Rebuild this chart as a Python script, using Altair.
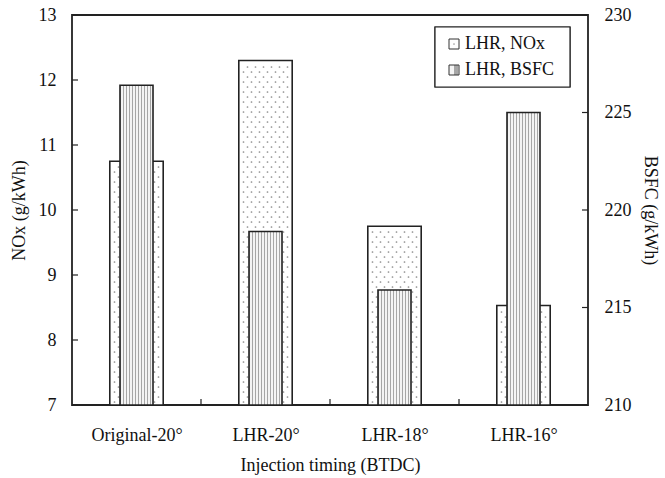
import json
import numpy as np
import pandas as pd
import altair as alt

# ---- values ---------------------------------------------------------------
categories = ["Original-20°", "LHR-20°", "LHR-18°", "LHR-16°"]
nox = [10.75, 12.3, 9.75, 8.53]          # g/kWh, left axis
bsfc = [226.4, 218.9, 215.9, 225.0]      # g/kWh, right axis
nox_ticks = [7, 8, 9, 10, 11, 12, 13]
bsfc_ticks = [210, 215, 220, 225, 230]
series = ["LHR, NOx", "LHR, BSFC"]
x_title = "Injection timing (BTDC)"
nox_title = "NOx (g/kWh)"
bsfc_title = "BSFC (g/kWh)"

# ---- layout ---------------------------------------------------------------
W, H = 516, 390
FONT = "Liberation Serif"
FS = 18
NOX_HALF = 0.207     # half bar width, in category units
BSFC_HALF = 0.128
TICK = 6
band_px = W / len(categories)

bars = pd.DataFrame({
    "cat": categories,
    "pos": [i + 0.5 for i in range(len(categories))],
    "nox": nox,
    "bsfc": bsfc,
})

# stippled fill for the NOx bars: staggered lattice of dots up to each bar top
ppu = H / (nox_ticks[-1] - nox_ticks[0])   # pixels per NOx unit
dot_rows = []
for i, v in enumerate(nox):
    k = 0
    yv = nox_ticks[0] + 3 / ppu
    while yv < v - 2.5 / ppu:
        shift = 0 if k % 2 == 0 else 4
        for dx in np.arange(-22 + shift, 24, 8):
            dot_rows.append({"x": i + 0.5 + dx / band_px, "y": yv})
        k += 1
        yv += 5 / ppu
dots = pd.DataFrame(dot_rows)

# vertical hatching for the BSFC bars as a hard-stop linear gradient
n_str = 11
stops = []
for k in range(n_str):
    a, b, c = k / n_str, (k + 0.45) / n_str, (k + 1) / n_str
    stops += [alt.GradientStop(color="#a6a6a6", offset=a),
              alt.GradientStop(color="#a6a6a6", offset=b),
              alt.GradientStop(color="#f4f4f4", offset=b),
              alt.GradientStop(color="#f4f4f4", offset=c)]
hatch = alt.LinearGradient(gradient="linear", stops=stops, x1=0, x2=1, y1=0, y2=0)

label_expr = json.dumps(categories) + "[floor(datum.value)]"
x_scale = alt.Scale(domain=[0, len(categories)], nice=False, zero=False)
x_axis = alt.Axis(values=[p for p in bars["pos"]], labelExpr=label_expr,
                  ticks=False, domain=False, grid=False, labelPadding=21,
                  title=x_title, titlePadding=12)
nox_scale = alt.Scale(domain=[nox_ticks[0], nox_ticks[-1]], nice=False, zero=False)
bsfc_scale = alt.Scale(domain=[bsfc_ticks[0], bsfc_ticks[-1]], nice=False, zero=False)

base = alt.Chart(bars)

nox_bars = base.transform_calculate(
    lo=f"datum.pos - {NOX_HALF}", hi=f"datum.pos + {NOX_HALF}"
).mark_rect(fill="white", stroke="#222", strokeWidth=1.6).encode(
    x=alt.X("lo:Q", scale=x_scale, axis=x_axis),
    x2="hi:Q",
    y=alt.Y("nox:Q", scale=nox_scale,
            axis=alt.Axis(values=nox_ticks, format="d", ticks=False, domain=False,
                          grid=False, labelPadding=16, title=nox_title, titlePadding=10)),
    y2=alt.datum(nox_ticks[0]),
)

dot_layer = alt.Chart(dots).mark_circle(color="#8a8a8a", size=3, opacity=1).encode(
    x=alt.X("x:Q", scale=x_scale),
    y=alt.Y("y:Q", scale=nox_scale),
)

left_ticks = alt.Chart(pd.DataFrame({"v": nox_ticks})).mark_rule(
    color="#222", strokeWidth=1.2).encode(
    y=alt.Y("v:Q", scale=nox_scale), x=alt.value(0), x2=alt.value(TICK))

x_ticks = alt.Chart(pd.DataFrame({"v": list(range(1, len(categories)))})).mark_rule(
    color="#222", strokeWidth=1.2).encode(
    x=alt.X("v:Q", scale=x_scale), y=alt.value(H - TICK), y2=alt.value(H))

left = alt.layer(nox_bars, dot_layer, left_ticks, x_ticks)

bsfc_bars = base.transform_calculate(
    lo=f"datum.pos - {BSFC_HALF}", hi=f"datum.pos + {BSFC_HALF}"
).mark_rect(fill=hatch, stroke="#222", strokeWidth=1.6).encode(
    x=alt.X("lo:Q", scale=x_scale),
    x2="hi:Q",
    y=alt.Y("bsfc:Q", scale=bsfc_scale,
            axis=alt.Axis(orient="right", values=bsfc_ticks, format="d", ticks=False,
                          domain=False, grid=False, labelPadding=16,
                          title=bsfc_title, titlePadding=9)),
    y2=alt.datum(bsfc_ticks[0]),
)

right_ticks = alt.Chart(pd.DataFrame({"v": bsfc_ticks})).mark_rule(
    color="#222", strokeWidth=1.2).encode(
    y=alt.Y("v:Q", scale=bsfc_scale), x=alt.value(W - TICK), x2=alt.value(W))

right = alt.layer(bsfc_bars, right_ticks)

# ---- legend (boxed, upper right) -------------------------------------------
LX0, LX1, LY0, LY1 = 363, 498, 12, 72
leg_src = alt.Chart(pd.DataFrame({"s": series}))
legend_parts = [
    leg_src.mark_rect(fill="white", stroke="#222", strokeWidth=1.2).encode(
        x=alt.value(LX0), x2=alt.value(LX1), y=alt.value(LY0), y2=alt.value(LY1))
]
for j, name in enumerate(series):
    cy = 29 + j * 26
    one = alt.Chart(pd.DataFrame({"s": [name]}))
    fill = "white" if j == 0 else hatch
    legend_parts.append(one.mark_rect(fill=fill, stroke="#333", strokeWidth=1).encode(
        x=alt.value(377), x2=alt.value(387), y=alt.value(cy - 5), y2=alt.value(cy + 5)))
    if j == 0:
        legend_parts.append(one.mark_circle(color="#777", size=3).encode(
            x=alt.value(382), y=alt.value(cy)))
    legend_parts.append(one.mark_text(align="left", baseline="middle", font=FONT,
                                      fontSize=FS, color="#111").encode(
        x=alt.value(393), y=alt.value(cy), text="s:N"))

chart = alt.layer(left, right, *legend_parts).resolve_scale(
    y="independent"
).properties(
    width=W, height=H,
    autosize=alt.AutoSizeParams(type="none"),
    padding={"left": 72, "top": 15, "right": 77, "bottom": 73},
).configure_view(
    stroke="#222", strokeWidth=1.8
).configure_axis(
    labelFont=FONT, titleFont=FONT, labelFontSize=FS, titleFontSize=FS,
    labelColor="#111", titleColor="#111", titleFontWeight="normal",
)

chart.save("out.html", embed_options={"renderer": "svg", "actions": False})
